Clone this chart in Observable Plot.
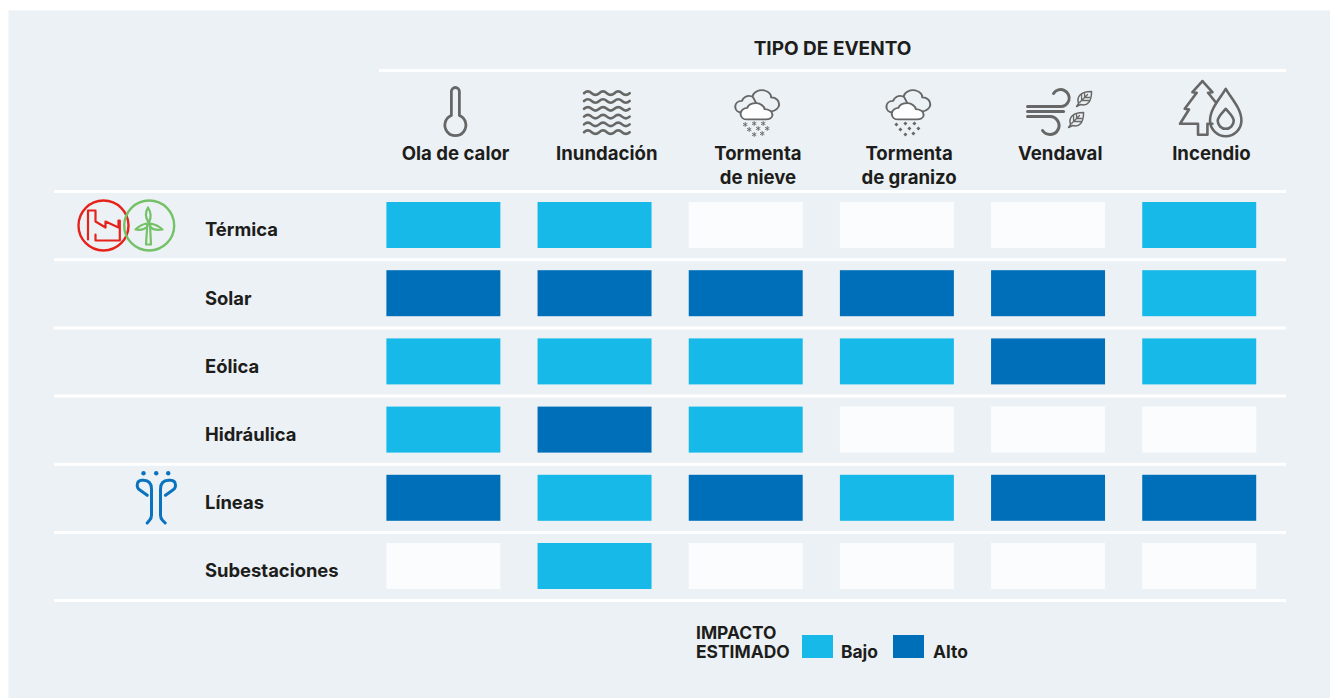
<!DOCTYPE html>
<html><head><meta charset="utf-8">
<script src="https://cdn.jsdelivr.net/npm/d3@7"></script>
<script src="https://cdn.jsdelivr.net/npm/@observablehq/plot@0.6"></script>
<style>html,body{margin:0;padding:0;background:#fff;overflow:hidden}#c{position:absolute;left:0;top:0;width:1330px;height:698px}svg{display:block}
.lg{position:absolute;font:700 17.400px/19px Inter,'Noto Sans',sans-serif;color:#1d1d1b;white-space:pre}
.sw{position:absolute;width:31px;height:23px;top:635px}</style>
</head><body><div id="c"></div>
<script>
const eventos=["Ola de calor","Inundación","Tormenta\nde nieve","Tormenta\nde granizo","Vendaval","Incendio"];
const tecnologias=["Térmica","Solar","Eólica","Hidráulica","Líneas","Subestaciones"];
const termica=["Bajo","Bajo","Ninguno","Ninguno","Ninguno","Bajo"];
const solar=["Alto","Alto","Alto","Alto","Alto","Bajo"];
const eolica=["Bajo","Bajo","Bajo","Bajo","Alto","Bajo"];
const hidraulica=["Bajo","Alto","Bajo","Ninguno","Ninguno","Ninguno"];
const lineas=["Alto","Bajo","Alto","Bajo","Alto","Alto"];
const subestaciones=["Ninguno","Bajo","Ninguno","Ninguno","Ninguno","Ninguno"];
const filas=[termica,solar,eolica,hidraulica,lineas,subestaciones];
const niveles=["Ninguno","Bajo","Alto"];
const colores=["#FBFCFD","#16B9E8","#006FB9"];
const celdas=tecnologias.flatMap((t,i)=>eventos.map((e,j)=>({t,e,v:filas[i][j]})));
const G="#666766", BG="#ECF1F5";
const svgUri=(w,h,b,vb)=>"data:image/svg+xml,"+encodeURIComponent(`<svg xmlns="http://www.w3.org/2000/svg" width="${w}" height="${h}" viewBox="${vb||`0 0 ${w} ${h}`}" fill="none" stroke-linecap="round" stroke-linejoin="round">${b}</svg>`);
const box=b=>svgUri(70,64,b,"0 -4 70 64");
const cloud=`<g transform="translate(6.700 1) scale(1.330 1.160)" stroke="${G}" stroke-width="1.500" fill="${BG}"><path d="M9 25c-3 0-5-2-5-5s2-5 5-5c1-3 4-5 7-4 2 0 4 2 5 4l-3 10z"/><path d="M17 11c1-4 5-6 9-5 3 1 5 3 5 6 4 0 6 3 6 6s-3 6-6 6h-8z"/><path d="M13 31c-3 0-5-2-5-5s3-5 5-5c1-3 4-4 7-4s6 3 6 5c3 0 6 2 6 5s-3 4-5 4z" fill="#fdfeff"/></g>`;
const puntos=[[22,42],[31,41],[40,41],[26,47],[35,46],[44,46],[31,52],[39,51]];
const wave=y=>`<path d="M12 ${y}q3.800-3.500 7.600 0t7.600 0 7.600 0 7.600 0 7.600 0 7.600 0"/>`;
const flake=(x,y)=>`<path d="M${x} ${y-2}v4M${x-1.8} ${y-1}l3.600 2M${x-1.8} ${y+1}l3.600-2" stroke="${G}" stroke-width=".9"/>`;
const hail=(x,y)=>`<path d="M${x} ${y-2.1}l2 2.100-2 2.100-2-2.100z" fill="${G}"/>`;
const leaf=(x,y)=>`<g transform="translate(${x} ${y})" stroke="${G}" stroke-width="1.500" fill="${BG}"><path d="M1 16l2-3C1 7 4 1 16 1c0 10-4 15-11 13z"/><path d="M4 12l8-8M6 10V4M9 7V3M7 10h6M9 7h5" stroke-width="1.300"/></g>`;
const iconos={
"Ola de calor":box(`<path d="M30.500 33V9a4 4 0 0 1 8 0v24a10.500 10.500 0 1 1-8 0z" stroke="${G}" stroke-width="2.800"/>`),
"Inundación":box(`<g stroke="${G}" stroke-width="2.600">${[10.7,18.5,26.3,34.1,41.9,49.7].map(wave).join("")}</g>`),
"Tormenta\nde nieve":box(cloud+puntos.map(p=>flake(...p)).join("")),
"Tormenta\nde granizo":box(cloud+puntos.map(p=>hail(...p)).join("")),
"Vendaval":box(`<g stroke="${G}" stroke-width="3"><path d="M2 24H34A8.500 8.500 0 1 0 28 11"/><path d="M2 29H38"/><path d="M2 34H24A9 9 0 1 1 17 48"/></g>`+leaf(50,8)+leaf(42,29)),
"Incendio":box(`<g stroke="${G}" stroke-width="2.600"><path d="M25.700-1.300L15.700 9.700 20 10.300 8 26.300 12.300 27 3.300 41.300H21.300V52.300H30.700V41.300H35.700"/><path d="M25.700-1.300L35.700 9.700 31.300 10.300 39 19.700"/><path d="M49 6.300C44 15 33.300 26 33.300 38a15.700 15.700 0 0 0 31.400 0C64.700 26 54 15 49 6.300z"/><path d="M49 26.300C46 30 41 34 41 38.300a8 8 0 0 0 16 0C57 34 52 30 49 26.300z"/></g>`)
};
const dual=svgUri(100,54,`<circle cx="27" cy="27" r="25" stroke="#E5231B" stroke-width="2.400"/><circle cx="72.700" cy="27" r="25" stroke="#74C167" stroke-width="2.400"/><path d="M11.500 41V12H19V23L29 29V23L42 29V22H43.300V42H19V36" stroke="#E5231B" stroke-width="2.200"/><path d="M69.500 46L70.800 26H73.500L74.500 46ZM72 24C69 19 69 13 71.500 9 74 13 75 19 72.500 24ZM70 25C65 26 61 29 59 31 64 32 68 31 71 28ZM74 25C79 26 84 29 86 31 81 32 76 31 73.500 28Z" stroke="#74C167" stroke-width="2.200"/>`);
const linea=svgUri(44,60,`<g stroke="#0a73bf" stroke-width="3"><path d="M12.700 54.700L15 52Q17 50 17 47V21Q17 12 9 12H7.500Q2.700 12 2.700 17 2.700 20 5 21.500L12.700 27"/><path d="M30.700 54.700L28 52Q26 50 26 47V21Q26 12 34 12H36Q41 12 41 17 41 20 38.700 21.500L31 27"/></g><g fill="#0a73bf"><circle cx="9" cy="5" r="2.200"/><circle cx="21.700" cy="5" r="2.200"/><circle cx="33.700" cy="5" r="2.200"/></g>`);
const sans="Inter, 'Noto Sans', sans-serif";
const ink="#1d1d1b";
const plot=Plot.plot({
  width:1330,height:698,margin:0,
  style:{background:"#fff",fontFamily:sans},
  x:{type:"band",domain:eventos,range:[349.2,1293.4],padding:0.246,round:false,axis:null},
  y:{type:"band",domain:tecnologias,range:[179.8,611.2],padding:0.3255,round:false,axis:null},
  color:{type:"ordinal",domain:niveles,range:colores},
  marks:[
    Plot.frame({fill:BG,stroke:null,insetLeft:8,insetTop:10}),
    Plot.ruleY(tecnologias,{y:d=>d,dy:-34,stroke:"#fff",strokeWidth:3,insetLeft:54,insetRight:44}),
    Plot.ruleY(tecnologias.slice(-1),{y:d=>d,dy:34,stroke:"#fff",strokeWidth:3,insetLeft:54,insetRight:44}),
    Plot.ruleY(["Térmica"],{y:d=>d,dy:-155,stroke:"#fff",strokeWidth:3,insetLeft:379,insetRight:44}),
    Plot.cell(celdas,{x:"e",y:"t",fill:"v"}),
    Plot.text(eventos,{x:d=>d,frameAnchor:"top",dy:142,dx:11.7,lineAnchor:"top",lineHeight:1.29,text:d=>d,fontSize:18.6,fontWeight:700,fill:ink}),
    Plot.text(["TIPO DE EVENTO"],{frameAnchor:"top",dx:167,dy:41,lineAnchor:"top",text:d=>d,fontSize:19,fontWeight:700,fill:ink}),
    Plot.text(tecnologias,{y:d=>d,frameAnchor:"left",dx:204.5,dy:5,textAnchor:"start",text:d=>d,fontSize:18.4,fontWeight:700,fill:ink}),
    Plot.image(eventos,{x:d=>d,frameAnchor:"top",dx:12,dy:110,width:70,height:64,src:d=>iconos[d]}),
    Plot.image(["Térmica"],{y:d=>d,frameAnchor:"left",dx:126,width:100,height:54,src:dual}),
    Plot.image(["Líneas"],{y:d=>d,frameAnchor:"left",dx:156,width:44,height:60,src:linea})
  ]
});
const c=document.getElementById("c");
c.append(plot);
const add=(cls,txt,css)=>{const d=document.createElement("div");d.className=cls;if(txt)d.textContent=txt;d.style.cssText=css;c.append(d)};
add("lg","IMPACTO\nESTIMADO","left:696px;top:623px");
add("sw","",`left:802px;background:${colores[1]}`);
add("lg",niveles[1],"left:841px;top:642px");
add("sw","",`left:893px;background:${colores[2]}`);
add("lg",niveles[2],"left:933px;top:642px");
</script>
</body></html>
